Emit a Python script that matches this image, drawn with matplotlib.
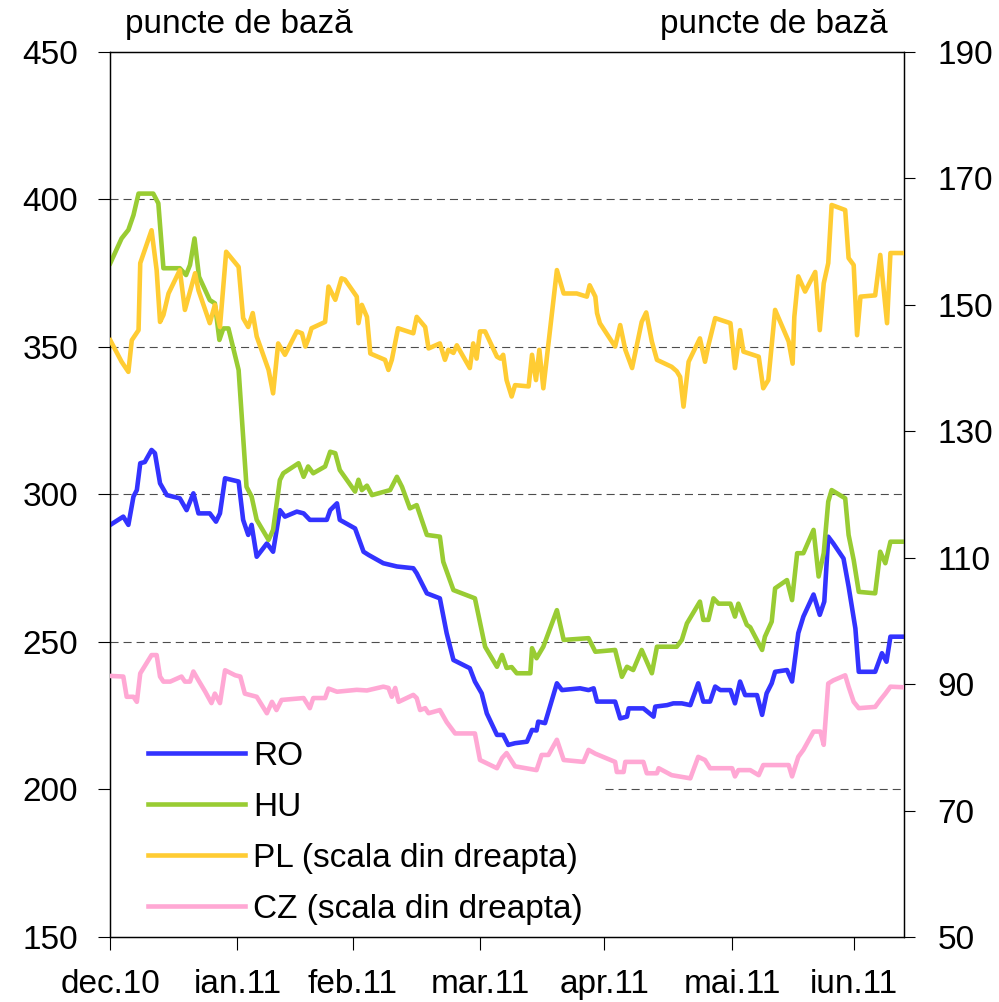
import matplotlib
matplotlib.use('Agg')
import matplotlib.pyplot as plt

plt.rcParams['font.family'] = ['Liberation Sans', 'DejaVu Sans']
plt.rcParams['lines.scale_dashes'] = False

# ---- axis labels / ticks ----
month_labels = ['dec.10', 'ian.11', 'feb.11', 'mar.11', 'apr.11', 'mai.11', 'iun.11']
month_pos = [0.35, 22.9, 43.3, 65.8, 87.8, 110.4, 132.0]   # trading-day index
left_ticks = [150, 200, 250, 300, 350, 400, 450]
right_ticks = [50, 70, 90, 110, 130, 150, 170, 190]
grid_levels = [250, 300, 350, 400]
unit_label = 'puncte de bază'

# ---- series (x = trading-day index, y = basis points) ----
ro_x = [0.4, 2.7, 3.6, 4.5, 5.1, 5.7, 6.5, 7.7, 8.3, 9.2, 10.4, 12.7, 13.9, 15.1, 16.0, 18.0, 19.1, 19.8, 20.7, 23.1,
        23.9, 24.8, 25.4, 26.3, 28.1, 29.2, 30.4, 31.3, 33.4, 34.6, 35.7, 38.7, 39.3, 40.5, 41.0, 43.7, 45.2, 46.1, 48.7, 51.1,
        54.0, 54.6, 56.4, 58.7, 59.9, 61.1, 64.0, 64.9, 66.1, 67.0, 68.8, 69.9, 70.8, 72.0, 74.1, 75.0, 75.8, 76.1, 77.3, 79.4,
        80.3, 83.5, 85.0, 85.9, 86.5, 89.7, 90.6, 91.8, 92.1, 94.7, 96.5, 96.8, 98.9, 100.0, 101.5, 103.0, 104.4, 105.3, 106.5, 107.4,
        108.3, 110.1, 110.9, 111.8, 112.7, 114.8, 115.7, 116.5, 117.4, 118.0, 120.1, 121.0, 122.1, 123.0, 124.8, 125.9, 126.7, 127.4, 128.3, 130.1,
        131.0, 132.2, 132.8, 135.7, 136.9, 137.7, 138.4, 140.8]
ro_y = [289.7, 292.5, 289.7, 299.3, 301.5, 310.6, 311.0, 315.1, 314.0, 303.8, 299.8, 298.7, 294.7, 300.4, 293.6, 293.6, 290.8, 293.6, 305.5, 304.4,
        291.4, 286.3, 289.7, 278.9, 283.4, 280.6, 294.7, 292.5, 294.2, 293.6, 291.4, 291.4, 294.7, 297.0, 291.4, 288.5, 280.6, 279.5, 276.7, 275.6,
        275.0, 273.3, 266.5, 264.8, 253.0, 243.9, 241.1, 236.6, 232.6, 225.8, 218.5, 218.5, 215.1, 215.7, 216.2, 220.2, 220.0, 223.0, 222.5, 236.0,
        233.7, 234.3, 233.7, 234.3, 229.8, 229.8, 224.1, 224.7, 227.5, 227.5, 224.7, 228.1, 228.6, 229.2, 229.2, 228.6, 236.0, 229.8, 229.8, 234.9,
        233.7, 233.7, 229.2, 236.6, 232.0, 232.0, 225.3, 232.6, 236.0, 239.9, 240.5, 236.6, 253.0, 258.6, 266.1, 259.2, 263.7, 285.7, 283.4, 278.3,
        268.8, 254.6, 239.9, 239.9, 246.2, 243.3, 251.8, 251.8]

hu_x = [0.4, 2.4, 3.6, 4.5, 5.4, 8.0, 8.9, 9.8, 12.7, 13.8, 14.5, 15.3, 16.1, 18.0, 18.9, 19.7, 20.4, 21.3, 23.1, 24.5,
        25.4, 26.3, 28.4, 29.2, 30.4, 31.0, 33.7, 34.6, 35.4, 36.3, 38.4, 39.3, 40.2, 41.0, 43.7, 44.3, 44.9, 45.8, 46.7, 49.9,
        51.1, 52.0, 53.4, 54.6, 56.4, 58.7, 59.3, 61.1, 64.9, 66.7, 68.8, 69.7, 70.5, 71.4, 72.3, 74.7, 75.0, 75.8, 77.0, 79.4,
        80.6, 85.0, 86.2, 89.7, 90.9, 91.8, 92.9, 94.4, 96.2, 97.1, 100.6, 101.5, 102.4, 104.7, 105.3, 106.2, 107.1, 108.0, 110.1, 110.9,
        111.5, 113.0, 113.6, 115.7, 116.2, 117.4, 118.0, 120.1, 121.0, 121.9, 123.0, 124.8, 125.7, 126.6, 127.4, 128.0, 130.4, 131.0, 131.9, 132.8,
        135.7, 136.6, 137.5, 138.4, 140.8]
hu_y = [378.4, 386.8, 389.7, 394.7, 402.0, 402.0, 398.7, 376.7, 376.7, 374.4, 377.8, 386.8, 373.8, 365.9, 364.8, 352.4, 356.3, 356.3, 342.2, 302.6,
        299.3, 291.4, 284.6, 288.0, 304.9, 307.2, 310.6, 306.0, 309.5, 307.2, 309.5, 314.5, 314.0, 308.3, 301.0, 305.0, 301.5, 303.0, 299.8, 301.5,
        306.0, 302.6, 295.3, 296.4, 286.3, 285.7, 277.2, 267.6, 264.8, 248.4, 241.6, 245.6, 241.2, 241.5, 239.4, 239.4, 247.9, 244.5, 248.4, 260.8,
        250.7, 251.3, 246.7, 247.3, 238.2, 241.6, 240.5, 247.3, 239.4, 248.4, 248.4, 250.7, 256.3, 263.7, 257.5, 257.5, 264.8, 263.0, 263.0, 258.6,
        263.0, 255.8, 255.0, 247.3, 251.8, 256.9, 268.2, 271.0, 264.2, 280.1, 280.1, 288.0, 272.2, 280.1, 297.6, 301.5, 298.7, 286.3, 277.8, 267.0,
        266.5, 280.6, 276.7, 284.0, 284.0]

pl_x = [0.4, 2.4, 3.6, 4.2, 5.4, 5.7, 7.7, 8.6, 9.2, 9.8, 10.7, 12.7, 13.6, 15.4, 16.0, 18.0, 18.9, 19.8, 20.9, 23.1,
        23.9, 24.8, 25.6, 26.3, 28.4, 29.2, 30.1, 31.3, 33.4, 34.3, 34.9, 35.4, 36.0, 38.4, 39.0, 40.2, 41.3, 41.9, 44.0, 44.3,
        44.9, 45.8, 46.4, 49.0, 49.6, 50.2, 51.3, 54.0, 54.6, 56.1, 56.7, 58.7, 59.6, 60.2, 61.1, 61.7, 64.0, 64.6, 65.2, 65.8,
        66.7, 68.8, 69.4, 69.9, 70.5, 71.4, 72.0, 74.4, 75.0, 75.7, 76.3, 77.0, 79.4, 80.6, 82.9, 84.7, 85.2, 86.2, 86.5, 87.0,
        89.7, 90.6, 91.5, 92.7, 94.4, 95.2, 96.2, 97.1, 99.7, 100.6, 101.2, 101.8, 102.7, 104.7, 105.6, 106.2, 107.4, 110.1, 110.9, 111.8,
        112.4, 115.1, 115.9, 116.8, 118.0, 120.4, 121.1, 121.4, 122.1, 123.3, 125.1, 125.9, 126.6, 127.4, 128.0, 128.9, 130.4, 131.0, 131.9, 132.5,
        133.1, 135.7, 136.6, 137.8, 138.4, 140.8]
pl_y = [144.4, 141.0, 139.4, 144.4, 146.0, 156.6, 161.8, 155.5, 147.3, 148.4, 151.8, 155.5, 149.2, 155.0, 152.3, 147.1, 150.0, 146.5, 158.4, 156.0,
        147.9, 146.5, 148.7, 145.0, 139.7, 136.0, 143.9, 142.1, 145.8, 145.5, 143.4, 144.5, 146.3, 147.3, 152.9, 150.8, 154.2, 154.0, 151.3, 147.1,
        150.0, 148.1, 142.3, 141.3, 139.7, 141.3, 146.3, 145.5, 148.1, 146.5, 143.1, 143.9, 141.3, 142.9, 142.4, 143.6, 140.0, 143.9, 141.5, 145.8,
        145.8, 141.8, 141.5, 142.1, 138.1, 135.5, 137.3, 137.1, 142.1, 138.1, 142.9, 136.8, 155.5, 151.8, 151.8, 151.3, 153.1, 151.3, 148.7, 147.1,
        143.4, 146.8, 142.9, 140.0, 147.3, 148.8, 144.2, 141.3, 140.2, 139.5, 138.6, 133.9, 141.0, 144.7, 141.0, 143.6, 147.9, 147.1, 140.0, 146.0,
        142.6, 141.8, 136.8, 138.1, 149.2, 144.2, 140.7, 148.1, 154.5, 152.1, 155.2, 146.0, 153.4, 156.6, 165.8, 165.5, 165.0, 157.4, 156.3, 145.2,
        151.3, 151.5, 157.9, 147.1, 158.2, 158.2]

cz_x = [0.4, 2.7, 3.3, 4.5, 5.1, 5.7, 7.7, 8.6, 9.2, 9.8, 11.0, 13.0, 13.6, 14.5, 15.1, 16.0, 17.2, 18.3, 18.9, 19.8,
        20.7, 22.5, 23.4, 24.2, 26.3, 28.1, 29.0, 29.8, 30.7, 34.6, 35.7, 36.3, 38.4, 39.0, 40.5, 44.0, 45.8, 48.7, 49.6, 50.2,
        50.8, 51.4, 54.0, 54.6, 55.2, 56.1, 56.7, 58.7, 59.9, 61.4, 64.9, 65.8, 68.8, 69.7, 70.5, 72.0, 75.8, 76.7, 77.9, 79.4,
        80.6, 84.1, 85.0, 86.2, 89.7, 90.0, 91.2, 91.5, 94.7, 95.3, 97.1, 97.4, 99.7, 103.0, 104.4, 105.6, 106.5, 110.4, 110.9, 111.5,
        113.6, 115.1, 115.9, 120.4, 121.0, 122.1, 123.0, 124.8, 126.0, 126.6, 127.4, 128.3, 130.4, 131.0, 131.9, 132.8, 135.7, 136.6, 137.5, 138.4,
        140.8]
cz_y = [91.3, 91.2, 88.0, 88.0, 87.2, 91.7, 94.6, 94.6, 91.2, 90.4, 90.4, 91.2, 90.4, 90.4, 92.0, 90.6, 88.8, 87.0, 88.5, 87.0,
        92.2, 91.4, 91.2, 88.5, 88.0, 85.4, 87.2, 85.9, 87.5, 87.8, 86.2, 87.8, 87.8, 89.3, 88.8, 89.1, 89.0, 89.6, 89.4, 88.0,
        89.4, 87.2, 88.3, 87.8, 85.9, 86.2, 85.4, 85.9, 84.0, 82.2, 82.2, 78.0, 76.7, 78.3, 79.1, 77.0, 76.4, 78.8, 78.8, 81.2,
        78.0, 77.7, 79.6, 79.0, 77.7, 76.1, 76.1, 77.7, 77.7, 75.9, 75.9, 76.7, 75.6, 75.1, 78.5, 78.0, 76.7, 76.7, 75.4, 76.4,
        76.4, 75.6, 77.2, 77.2, 75.4, 78.5, 79.6, 82.5, 82.5, 80.4, 90.1, 90.6, 91.4, 89.6, 87.2, 86.2, 86.4, 87.5, 88.5, 89.6,
        89.5]

series_names = ['RO', 'HU', 'PL (scala din dreapta)', 'CZ (scala din dreapta)']
colors = ['#3333ff', '#99cc33', '#ffcc33', '#ffa8d4']

FS = 24
W, H = 999, 1002
fig = plt.figure(figsize=(W / 100, H / 100), dpi=100)
ax = fig.add_axes([110 / W, 1 - 937 / H, 794 / W, 885 / H])
ax2 = ax.twinx()

# gridlines (the 200 line is partly hidden behind the legend in the original)
for g in grid_levels:
    ax.axhline(g, color='#4d4d4d', lw=0.8, linestyle=(0, (5.8, 3.6)), zorder=1)
ax.axhline(200, xmin=0.624, xmax=1, color='#4d4d4d', lw=0.8, linestyle=(0, (5.8, 3.6)), zorder=1)

lw = 3.3
l_ro, = ax.plot(ro_x, ro_y, color=colors[0], lw=lw, zorder=3)
l_hu, = ax.plot(hu_x, hu_y, color=colors[1], lw=lw, zorder=3)
l_pl, = ax2.plot(pl_x, pl_y, color=colors[2], lw=lw, zorder=3)
l_cz, = ax2.plot(cz_x, cz_y, color=colors[3], lw=lw, zorder=3)

ax.set_xlim(0.35, 140.8)
ax.set_ylim(150, 450)
ax2.set_ylim(50, 190)
ax.set_yticks(left_ticks)
ax2.set_yticks(right_ticks)
ax.set_xticks(month_pos)
ax.set_xticklabels(month_labels)

ax.tick_params(axis='both', direction='out', length=9, width=0.8, pad=14, labelsize=FS, colors='black')
ax2.tick_params(axis='y', direction='out', length=8, width=0.8, pad=16, labelsize=FS)
for a in (ax, ax2):
    for s in a.spines.values():
        s.set_linewidth(0.9)
        s.set_color('black')

fig.text(125 / W, 1 - 33 / H, unit_label, fontsize=FS, ha='left', va='baseline')
fig.text(888 / W, 1 - 33 / H, unit_label, fontsize=FS, ha='right', va='baseline')

leg = ax2.legend([l_ro, l_hu, l_pl, l_cz], series_names, loc='upper left',
                 bbox_to_anchor=(148 / W, 1 - 741 / H), bbox_transform=fig.transFigure,
                 frameon=False, fontsize=FS, handlelength=2.9, handletextpad=0.25,
                 labelspacing=0.6, borderpad=0, borderaxespad=0)

fig.savefig('out.png', dpi=100)
